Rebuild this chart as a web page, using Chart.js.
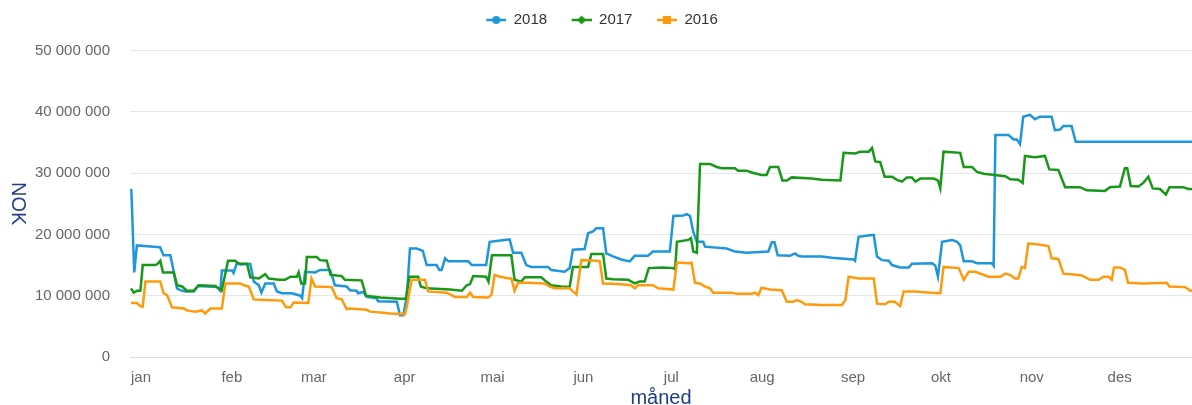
<!DOCTYPE html>
<html>
<head>
<meta charset="utf-8">
<script src="https://cdn.jsdelivr.net/npm/chart.js@4"></script>
<style>
  html, body { margin: 0; padding: 0; background: #fff; }
  #wrap { width: 1192px; height: 405px; }
</style>
</head>
<body>
<div id="wrap"><canvas id="chart" width="1192" height="405"></canvas></div>
<script>
// x = day of year (0 = 1 jan), values in millions NOK
const months = ['jan', 'feb', 'mar', 'apr', 'mai', 'jun', 'jul', 'aug', 'sep', 'okt', 'nov', 'des'];
const monthStart = [0, 31, 59, 90, 120, 151, 181, 212, 243, 273, 304, 334];
const yTicks = [0, 10000000, 20000000, 30000000, 40000000, 50000000];

const days2018 = [
  -3.3, -2.3, -1.4, 4.3, 6.5, 7.7, 10.0, 10.6, 11.7, 12.3,
  13.4, 15.1, 18.0, 19.5, 25.9, 27.1, 27.6, 31.1, 31.6, 32.8,
  33.9, 37.3, 38.5, 40.2, 41.1, 42.4, 45.3, 46.4, 48.1, 51.5,
  54.4, 55.0, 56.0, 59.4, 61.1, 64.5, 65.5, 66.2, 70.2, 71.3,
  73.6, 74.1, 75.9, 77.0, 80.4, 80.9, 87.3, 88.4, 89.5, 90.7,
  91.8, 94.1, 96.2, 97.5, 100.9, 101.8, 102.6, 103.8, 104.9, 111.7,
  112.9, 117.8, 119.0, 124.1, 125.8, 127.0, 129.8, 131.5, 133.2, 138.9,
  140.0, 144.6, 146.3, 147.4, 151.4, 152.6, 154.3, 155.4, 157.7, 158.8,
  161.1, 163.9, 166.8, 168.5, 173.0, 174.7, 180.5, 181.7, 185.1, 186.3,
  187.4, 188.5, 189.7, 191.9, 192.5, 199.9, 202.7, 206.7, 214.1, 215.3,
  216.2, 217.3, 221.5, 223.2, 224.3, 225.5, 232.3, 235.8, 243.2, 243.7,
  244.9, 249.5, 250.1, 251.2, 252.9, 255.2, 256.3, 259.1, 262.0, 263.1,
  270.0, 271.1, 272.0, 273.4, 276.8, 278.5, 279.6, 280.8, 283.6, 285.3,
  290.4, 291.0, 291.6, 296.1, 297.8, 298.9, 300.0, 301.1, 303.4, 305.1,
  306.8, 310.8, 311.9, 313.7, 314.8, 317.6, 319.0, 358.7
];
const nok2018 = [
  27.4, 13.8, 18.2, 18.0, 17.9, 16.6, 16.6, 15.3, 12.6, 11.2,
  10.9, 10.7, 10.7, 11.6, 11.4, 10.8, 14.1, 14.1, 13.7, 15.4,
  15.1, 15.2, 12.3, 11.7, 10.5, 12.0, 12.0, 10.7, 10.4, 10.4,
  10.0, 9.6, 13.9, 13.8, 14.2, 14.2, 12.8, 11.7, 11.5, 10.9,
  10.8, 10.4, 10.6, 9.8, 9.6, 9.1, 9.0, 6.8, 6.8, 9.8,
  17.7, 17.7, 17.3, 15.0, 15.0, 14.2, 14.2, 16.1, 15.6, 15.6,
  15.0, 15.0, 18.8, 19.1, 19.2, 17.0, 17.0, 15.0, 14.7, 14.7,
  14.2, 13.9, 14.5, 17.5, 17.6, 20.2, 20.5, 21.0, 21.0, 16.9,
  16.4, 15.9, 15.6, 16.5, 16.5, 17.2, 17.2, 23.0, 23.1, 23.3,
  23.0, 20.4, 18.8, 18.8, 18.0, 17.7, 17.2, 17.0, 17.2, 18.7,
  18.7, 16.6, 16.5, 16.9, 16.5, 16.4, 16.4, 16.2, 15.9, 15.7,
  19.6, 19.9, 19.9, 16.4, 15.8, 15.7, 15.0, 14.6, 14.6, 15.2,
  15.3, 14.9, 13.1, 18.8, 19.1, 18.8, 18.2, 15.6, 15.6, 15.3,
  15.3, 14.9, 36.2, 36.2, 35.5, 35.5, 34.7, 39.2, 39.5, 38.8,
  39.2, 39.2, 37.0, 37.1, 37.7, 37.7, 35.1, 35.1
];

const days2017 = [
  -3.4, -2.5, -1.4, -0.2, 0.6, 4.9, 5.7, 6.6, 7.5, 11.2,
  12.3, 14.0, 15.7, 18.0, 19.7, 25.4, 27.6, 29.7, 32.2, 33.3,
  36.2, 37.3, 40.2, 42.4, 43.6, 45.8, 47.0, 49.2, 51.0, 53.2,
  53.8, 54.7, 56.0, 56.6, 60.0, 61.1, 63.4, 64.7, 68.5, 69.6,
  75.3, 76.8, 81.6, 88.4, 90.4, 91.6, 94.6, 95.5, 97.5, 105.5,
  109.5, 111.2, 112.3, 113.4, 117.8, 118.6, 119.8, 126.4, 127.5, 129.8,
  131.0, 136.6, 138.3, 140.0, 143.4, 146.3, 147.4, 152.6, 153.7, 157.7,
  158.8, 161.1, 166.2, 168.5, 170.2, 171.9, 173.3, 178.1, 181.7, 182.3,
  182.9, 186.8, 187.7, 188.5, 189.7, 190.8, 194.2, 196.5, 198.2, 202.7,
  203.8, 206.7, 208.4, 211.8, 213.5, 214.7, 217.5, 218.9, 220.4, 222.1,
  228.9, 232.3, 238.7, 239.8, 243.8, 245.5, 248.4, 249.5, 250.6, 252.3,
  253.8, 256.3, 258.0, 259.7, 261.4, 263.1, 264.3, 266.0, 270.5, 272.0,
  272.8, 273.9, 279.6, 280.8, 283.6, 285.3, 287.6, 295.0, 296.7, 299.4,
  300.9, 301.7, 305.1, 308.5, 310.0, 313.1, 315.4, 320.5, 322.8, 329.0,
  330.7, 334.1, 335.8, 336.6, 337.8, 340.4, 342.1, 343.8, 345.3, 347.8,
  349.8, 351.0, 355.7, 357.4, 358.7
];
const nok2017 = [
  11.2, 10.5, 10.8, 10.8, 15.0, 15.0, 15.2, 15.7, 13.8, 13.8,
  11.7, 11.5, 10.8, 10.8, 11.7, 11.6, 10.9, 15.7, 15.7, 15.2,
  15.2, 13.0, 12.8, 13.5, 12.8, 12.7, 12.6, 12.6, 13.1, 13.1,
  13.8, 12.0, 12.0, 16.3, 16.3, 15.8, 15.7, 13.4, 13.2, 12.6,
  12.5, 10.0, 9.7, 9.5, 9.5, 13.1, 13.1, 11.5, 11.2, 11.0,
  10.8, 11.7, 11.9, 13.2, 13.1, 12.3, 16.6, 16.6, 12.6, 12.3,
  13.0, 13.0, 12.3, 11.7, 11.5, 11.4, 14.7, 14.7, 16.8, 16.8,
  12.8, 12.7, 12.6, 12.0, 12.3, 12.3, 14.5, 14.6, 14.5, 14.3,
  18.8, 19.1, 19.4, 17.2, 17.0, 31.5, 31.5, 31.0, 30.8, 30.8,
  30.4, 30.4, 30.1, 29.7, 29.7, 31.0, 31.0, 28.8, 28.8, 29.3,
  29.1, 28.9, 28.8, 33.3, 33.2, 33.5, 33.5, 34.1, 31.9, 31.8,
  29.4, 29.4, 28.9, 28.6, 29.3, 29.3, 28.6, 29.1, 29.1, 28.8,
  27.5, 33.5, 33.3, 31.0, 31.0, 30.2, 29.9, 29.5, 29.0, 28.9,
  28.4, 32.8, 32.6, 32.8, 30.6, 30.5, 27.7, 27.7, 27.2, 27.1,
  27.7, 27.8, 30.8, 30.8, 27.9, 27.8, 28.4, 29.4, 27.5, 27.4,
  26.5, 27.7, 27.7, 27.4, 27.4
];

const days2016 = [
  -3.4, -1.4, -0.2, 0.6, 1.5, 6.6, 7.7, 8.9, 10.6, 14.6,
  15.7, 18.5, 20.8, 21.9, 23.7, 27.6, 28.8, 33.9, 35.1, 36.8,
  38.5, 42.4, 48.1, 49.5, 51.0, 52.1, 57.1, 58.2, 59.4, 65.1,
  66.8, 68.5, 70.2, 71.3, 77.0, 78.2, 82.7, 85.0, 90.1, 90.7,
  92.4, 96.9, 98.0, 104.3, 107.2, 111.2, 112.3, 113.4, 118.4, 119.6,
  120.7, 122.5, 125.8, 126.4, 127.5, 128.7, 132.1, 137.8, 139.5, 141.2,
  146.3, 147.4, 148.6, 150.3, 155.4, 156.6, 157.7, 162.8, 167.3, 168.5,
  169.6, 174.7, 176.5, 181.7, 182.9, 186.8, 187.9, 189.1, 190.8, 192.5,
  194.2, 195.3, 201.6, 203.3, 208.4, 209.6, 210.7, 211.8, 214.7, 218.7,
  220.4, 222.6, 223.8, 225.5, 226.6, 232.3, 239.2, 240.4, 241.5, 245.0,
  250.1, 251.2, 254.0, 255.2, 257.3, 259.1, 260.3, 264.3, 269.4, 272.8,
  273.9, 279.1, 280.8, 282.5, 284.7, 289.3, 293.3, 295.0, 296.6, 298.3,
  299.4, 300.6, 301.7, 302.8, 305.7, 309.7, 310.8, 313.1, 314.8, 319.4,
  321.1, 323.9, 326.8, 328.5, 330.2, 331.3, 332.1, 334.1, 335.8, 336.9,
  342.1, 350.1, 351.0, 356.4, 358.1, 358.7
];
const nok2016 = [
  8.8, 8.8, 8.3, 8.2, 12.3, 12.3, 10.4, 10.1, 8.1, 7.9,
  7.6, 7.4, 7.6, 7.1, 7.9, 7.9, 12.0, 12.0, 11.7, 11.5,
  9.4, 9.3, 9.2, 8.1, 8.1, 8.9, 8.8, 12.8, 11.5, 11.4,
  9.6, 9.4, 7.8, 7.9, 7.7, 7.4, 7.2, 7.1, 7.0, 8.2,
  12.6, 12.6, 10.7, 10.5, 9.8, 9.8, 10.5, 9.8, 9.7, 10.1,
  13.4, 13.1, 12.8, 12.8, 10.8, 12.1, 12.1, 12.0, 11.5, 11.2,
  11.2, 10.7, 10.2, 15.8, 15.7, 15.6, 12.0, 11.9, 11.7, 11.2,
  11.7, 11.7, 11.2, 11.0, 15.4, 15.3, 15.4, 12.1, 12.0, 11.5,
  11.2, 10.5, 10.5, 10.3, 10.3, 10.5, 10.1, 11.3, 11.0, 10.9,
  9.0, 9.0, 9.3, 9.0, 8.6, 8.5, 8.5, 9.3, 13.1, 12.8,
  12.8, 8.7, 8.6, 9.0, 9.0, 8.3, 10.7, 10.7, 10.5, 10.4,
  14.7, 14.5, 12.6, 13.9, 13.9, 13.1, 13.1, 13.6, 13.4, 12.8,
  12.8, 14.7, 14.5, 18.5, 18.4, 18.1, 16.1, 16.0, 13.6, 13.4,
  13.3, 12.6, 12.6, 13.1, 13.1, 12.6, 14.6, 14.6, 14.2, 12.1,
  12.0, 12.1, 11.5, 11.4, 10.8, 10.8
];

const blue = '#1e96dc';
const green = '#189818';
const orange = '#ff9a0d';
const navy = '#203d85';
const fontFamily = '"Liberation Sans", Arial, sans-serif';

Chart.defaults.font.family = fontFamily;

function toPoints(days, vals) {
  return days.map((d, i) => ({ x: d, y: vals[i] * 1000000 }));
}

// legend symbol: short line with marker, drawn in the right part of a small canvas
function legendSymbol(color, shape) {
  const c = document.createElement('canvas');
  c.width = 32;
  c.height = 12;
  const g = c.getContext('2d');
  g.strokeStyle = color;
  g.lineWidth = 2.5;
  g.beginPath();
  g.moveTo(12, 6);
  g.lineTo(32, 6);
  g.stroke();
  g.fillStyle = color;
  g.beginPath();
  if (shape === 'circle') {
    g.arc(22, 6, 4, 0, Math.PI * 2);
  } else if (shape === 'diamond') {
    g.moveTo(22, 1.5); g.lineTo(26.5, 6); g.lineTo(22, 10.5); g.lineTo(17.5, 6);
    g.closePath();
  } else {
    g.rect(18, 2, 8, 8);
  }
  g.fill();
  return c;
}

function spaced(v) {
  return String(v).replace(/\B(?=(\d{3})+(?!\d))/g, ' ');
}

// more room under the legend
const legendGap = {
  id: 'legendGap',
  beforeInit(chart) {
    const fit = chart.legend.fit;
    chart.legend.fit = function () {
      fit.call(this);
      this.height += 13;
    };
  }
};

// y axis title, rotated clockwise like the original
const yTitle = {
  id: 'yTitle',
  afterDraw(chart) {
    const { ctx, chartArea } = chart;
    ctx.save();
    ctx.translate(18, (chartArea.top + chartArea.bottom) / 2);
    ctx.rotate(Math.PI / 2);
    ctx.font = '20px ' + fontFamily;
    ctx.fillStyle = navy;
    ctx.textAlign = 'center';
    ctx.textBaseline = 'middle';
    ctx.fillText('NOK', 0, 0);
    ctx.restore();
  }
};

const ctx = document.getElementById('chart').getContext('2d');
new Chart(ctx, {
  type: 'line',
  data: {
    datasets: [
      // later years drawn on top, like the original
      { label: '2018', order: 3, data: toPoints(days2018, nok2018), borderColor: blue, backgroundColor: blue, pointStyle: legendSymbol(blue, 'circle') },
      { label: '2017', order: 2, data: toPoints(days2017, nok2017), borderColor: green, backgroundColor: green, pointStyle: legendSymbol(green, 'diamond') },
      { label: '2016', order: 1, data: toPoints(days2016, nok2016), borderColor: orange, backgroundColor: orange, pointStyle: legendSymbol(orange, 'square') }
    ]
  },
  options: {
    responsive: false,
    animation: false,
    layout: { padding: 0 },
    elements: {
      line: { borderWidth: 2.5, tension: 0 },
      point: { radius: 0, hoverRadius: 0 }
    },
    plugins: {
      legend: {
        position: 'top',
        align: 'center',
        labels: {
          usePointStyle: true,
          pointStyleWidth: 32,
          padding: 12.5,
          color: '#333333',
          font: { size: 15 },
          sort: (a, b) => a.datasetIndex - b.datasetIndex
        }
      },
      tooltip: { enabled: false }
    },
    scales: {
      x: {
        type: 'linear',
        min: -3.75,
        max: 358.7,
        afterBuildTicks: axis => { axis.ticks = monthStart.map(v => ({ value: v })); },
        afterFit: axis => { axis.height = 48; },
        ticks: {
          autoSkip: false,
          maxRotation: 0,
          padding: 12,
          color: '#666666',
          font: { size: 15, lineHeight: 1.2 },
          callback: v => months[monthStart.indexOf(v)]
        },
        grid: { display: false, drawTicks: false },
        border: { display: true, color: '#d8dde6' },
        title: {
          display: true,
          text: 'måned',
          color: navy,
          font: { size: 20, lineHeight: 1 },
          padding: { top: 0, bottom: -3 }
        }
      },
      y: {
        min: 0,
        max: 50000000,
        afterBuildTicks: axis => { axis.ticks = yTicks.map(v => ({ value: v })); },
        afterFit: axis => { axis.width = 130; },
        ticks: {
          padding: 20,
          color: '#666666',
          font: { size: 15 },
          callback: v => spaced(v)
        },
        grid: { color: '#e6e6e6', drawTicks: false },
        border: { display: false }
      }
    }
  },
  plugins: [legendGap, yTitle]
});
</script>
</body>
</html>
